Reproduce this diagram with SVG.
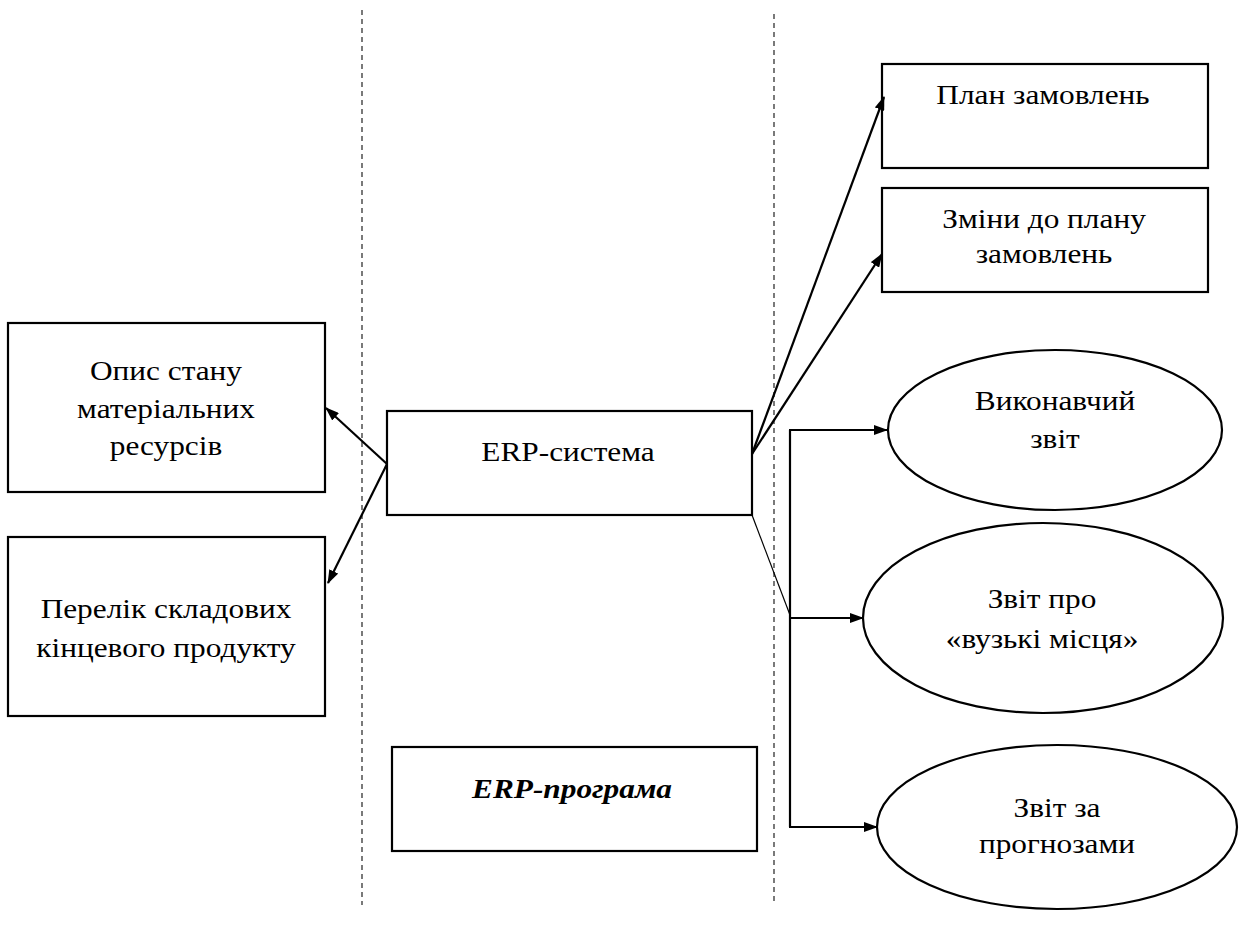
<svg xmlns="http://www.w3.org/2000/svg" width="1240" height="925" viewBox="0 0 1240 925">
<style>
.box{fill:#fff;stroke:#000;stroke-width:2.2}
.t{font-family:"Liberation Serif","Times New Roman",serif;font-size:27px;fill:#000;text-anchor:middle}
.bi{font-weight:bold;font-style:italic}
.c{fill:none;stroke:#000;stroke-width:2.2}
.thin{fill:none;stroke:#000;stroke-width:1.2}
.dash{fill:none;stroke:#333;stroke-width:1.3;stroke-dasharray:5 4}
</style>
<defs>
<marker id="ah" viewBox="0 0 14 10" refX="13" refY="5" markerWidth="14" markerHeight="10" markerUnits="userSpaceOnUse" orient="auto">
<path d="M0,0 L14,5 L0,10 z" fill="#000"/>
</marker>
</defs>
<rect width="1240" height="925" fill="#fff"/>
<g id="separators">
<line class="dash" x1="362" y1="10" x2="362" y2="905"/>
<line class="dash" x1="774" y1="14" x2="774" y2="905"/>
</g>
<g id="opys">
<rect class="box" x="8" y="323" width="317" height="169"/>
<text class="t" transform="translate(166,380) scale(1.16,1)">Опис стану</text>
<text class="t" transform="translate(166,418) scale(1.16,1)">матеріальних</text>
<text class="t" transform="translate(166,455) scale(1.16,1)">ресурсів</text>
</g>
<g id="perelik">
<rect class="box" x="8" y="537" width="317" height="179"/>
<text class="t" transform="translate(166,618) scale(1.16,1)">Перелік складових</text>
<text class="t" transform="translate(166,657) scale(1.16,1)">кінцевого продукту</text>
</g>
<g id="erp-system">
<rect class="box" x="387" y="411" width="365" height="104"/>
<text class="t" transform="translate(568,461) scale(1.16,1)">ERP-система</text>
</g>
<g id="erp-program">
<rect class="box" x="392" y="747" width="365" height="104"/>
<text class="t bi" transform="translate(572,798) scale(1.16,1)">ERP-програма</text>
</g>
<g id="plan">
<rect class="box" x="882" y="64" width="326" height="104"/>
<text class="t" transform="translate(1043,104) scale(1.16,1)">План замовлень</text>
</g>
<g id="zminy">
<rect class="box" x="882" y="188" width="326" height="104"/>
<text class="t" transform="translate(1044,228) scale(1.16,1)">Зміни до плану</text>
<text class="t" transform="translate(1044,263) scale(1.16,1)">замовлень</text>
</g>
<g id="vykonavchyi">
<ellipse class="box" cx="1055" cy="430" rx="167" ry="80"/>
<text class="t" transform="translate(1055,410) scale(1.16,1)">Виконавчий</text>
<text class="t" transform="translate(1055,448) scale(1.16,1)">звіт</text>
</g>
<g id="vuzki">
<ellipse class="box" cx="1043" cy="618" rx="180" ry="95"/>
<text class="t" transform="translate(1042,608) scale(1.16,1)">Звіт про</text>
<text class="t" transform="translate(1042,648) scale(1.16,1)">«вузькі місця»</text>
</g>
<g id="prognoz">
<ellipse class="box" cx="1057" cy="827" rx="180" ry="82"/>
<text class="t" transform="translate(1057,817) scale(1.16,1)">Звіт за</text>
<text class="t" transform="translate(1057,853) scale(1.16,1)">прогнозами</text>
</g>
<g id="connectors">
<line class="c" x1="387" y1="464" x2="326" y2="408" marker-end="url(#ah)"/>
<line class="c" x1="387" y1="464" x2="328" y2="583" marker-end="url(#ah)"/>
<line class="c" x1="752" y1="454" x2="884" y2="97" marker-end="url(#ah)"/>
<line class="c" x1="752" y1="454" x2="882" y2="254" marker-end="url(#ah)"/>
<line class="thin" x1="752" y1="515" x2="790" y2="615"/>
<line class="c" x1="790" y1="430" x2="790" y2="827"/>
<line class="c" x1="789" y1="430" x2="887" y2="430" marker-end="url(#ah)"/>
<line class="c" x1="789" y1="618" x2="863" y2="618" marker-end="url(#ah)"/>
<line class="c" x1="789" y1="827" x2="877" y2="827" marker-end="url(#ah)"/>
</g>
</svg>
